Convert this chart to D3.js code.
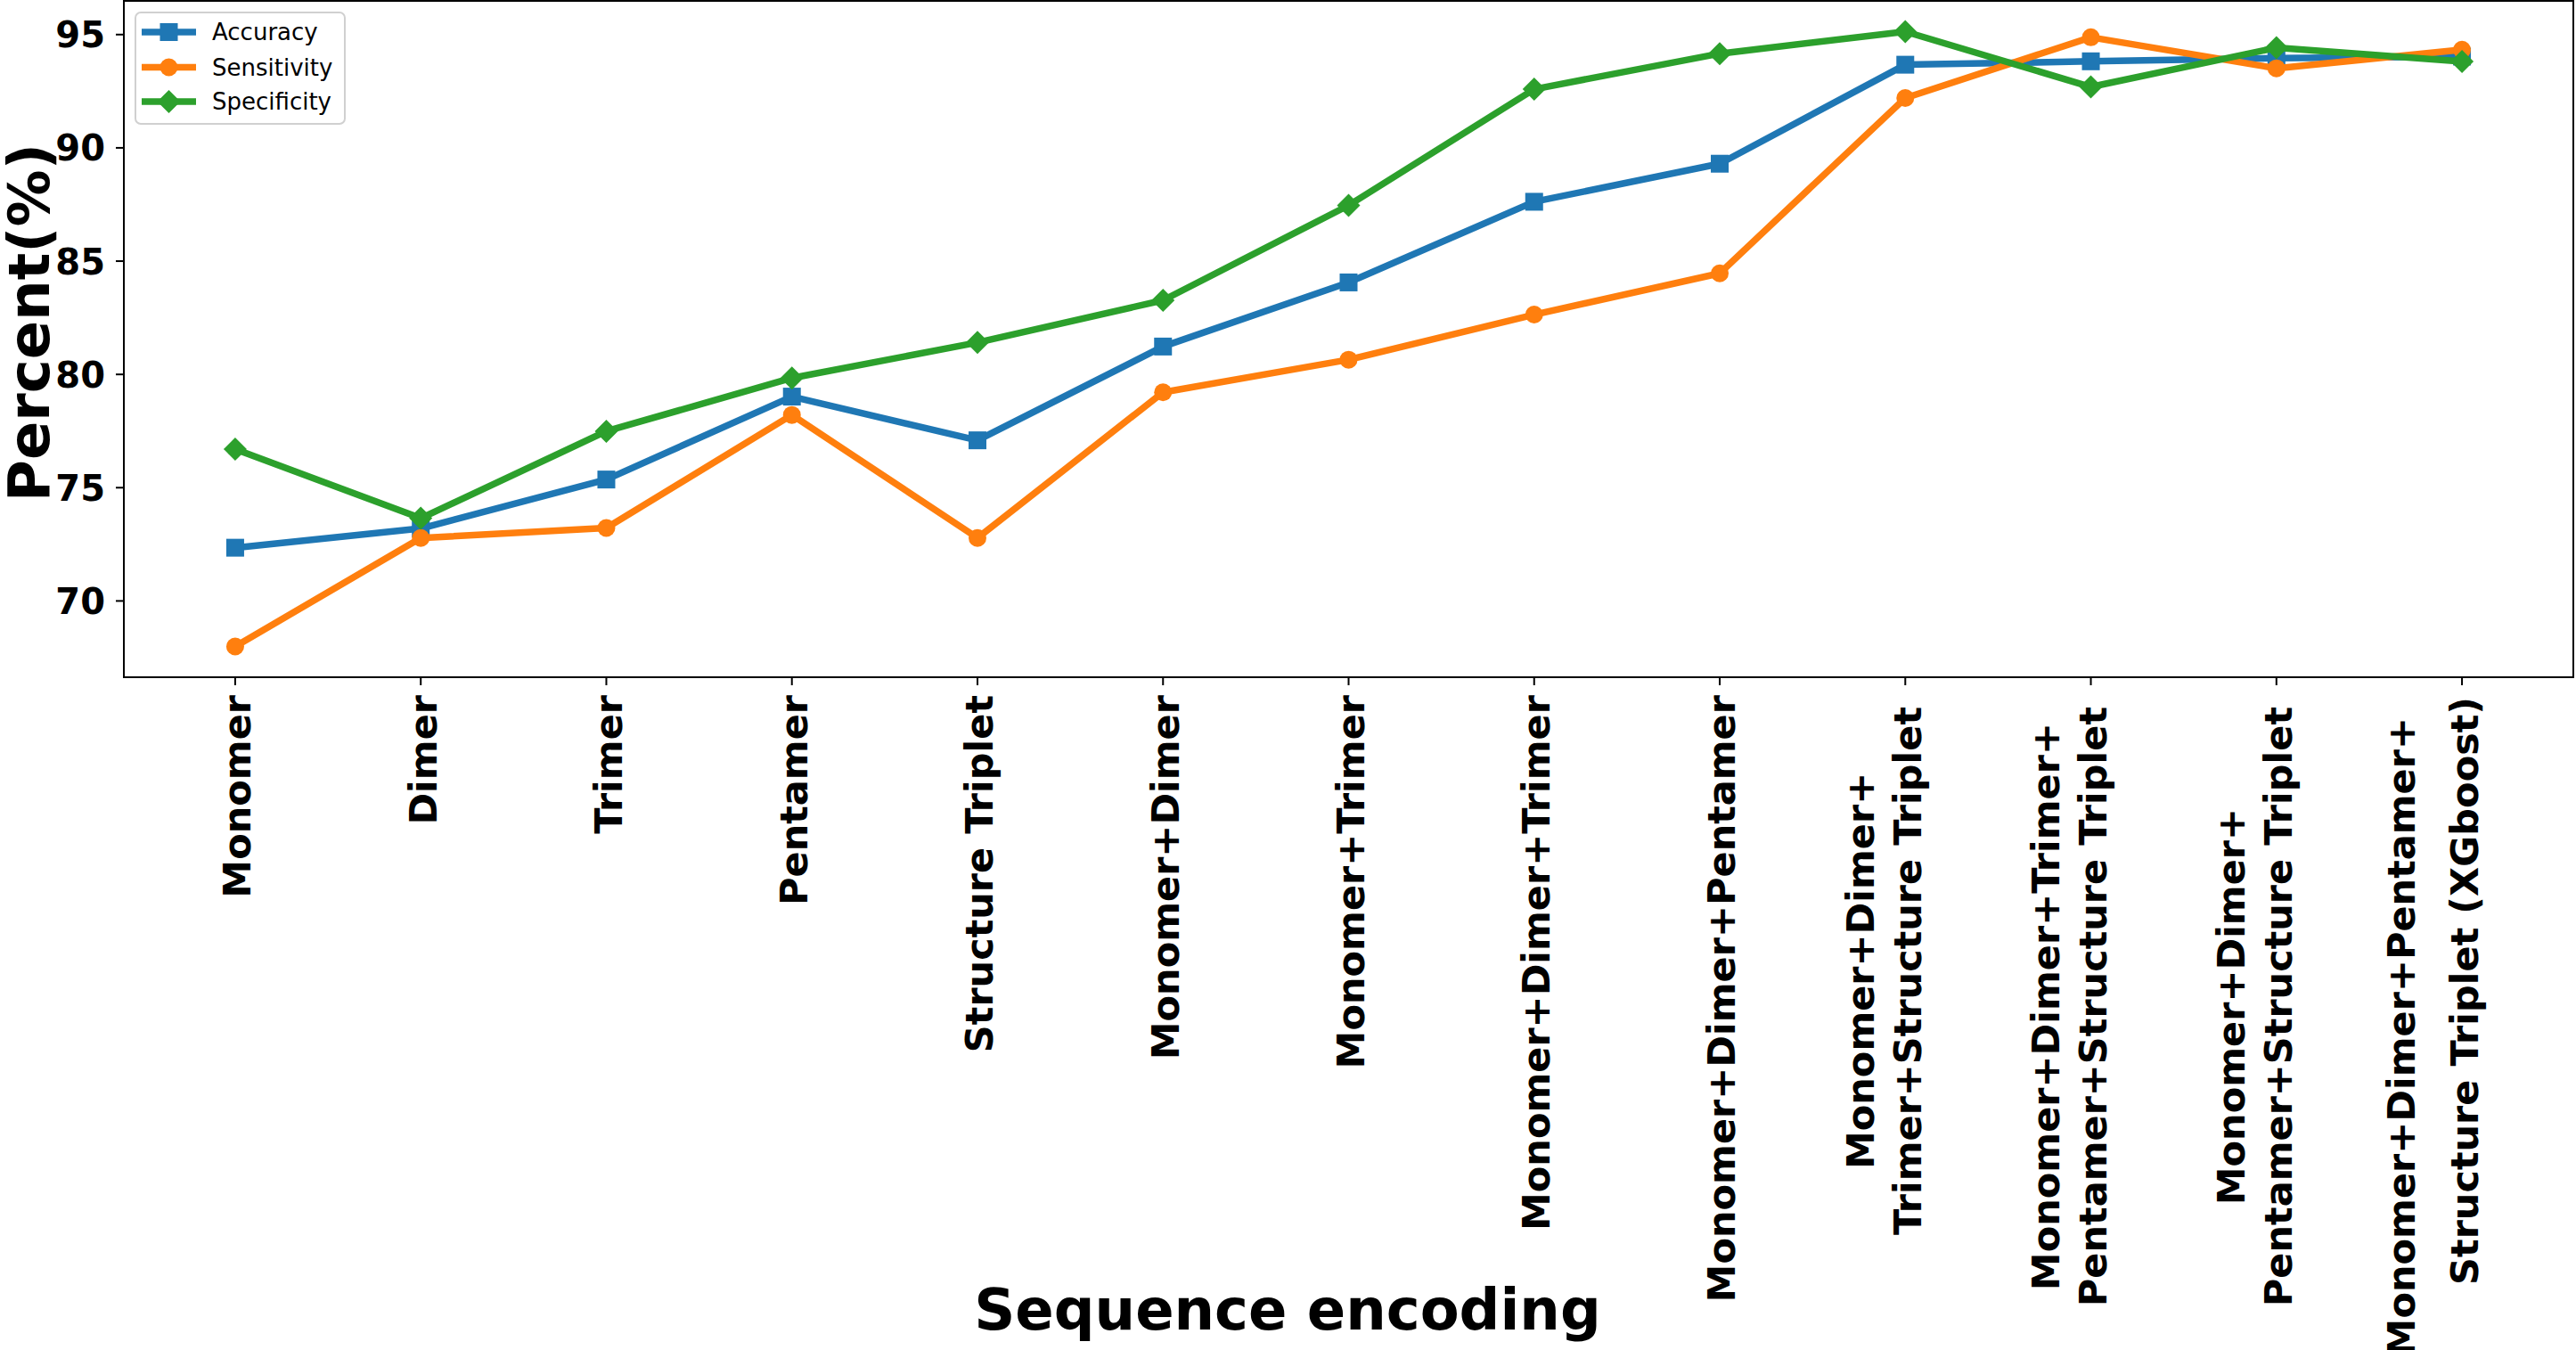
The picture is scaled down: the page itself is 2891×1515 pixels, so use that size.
<!DOCTYPE html>
<html>
<head>
<meta charset="utf-8">
<script src="https://cdn.jsdelivr.net/npm/d3@7"></script>
<style>
  html, body { margin: 0; padding: 0; background: #fff; }
  svg { display: block; }
  text { font-family: "DejaVu Sans", sans-serif; }
</style>
</head>
<body>
<svg id="chart" width="2891" height="1515"></svg>
<script>
// ---- data ----
const categories = [
  "Monomer",
  "Dimer",
  "Trimer",
  "Pentamer",
  "Structure Triplet",
  "Monomer+Dimer",
  "Monomer+Trimer",
  "Monomer+Dimer+Trimer",
  "Monomer+Dimer+Pentamer",
  "Monomer+Dimer+\nTrimer+Structure Triplet",
  "Monomer+Dimer+Trimer+\nPentamer+Structure Triplet",
  "Monomer+Dimer+\nPentamer+Structure Triplet",
  "Monomer+Dimer+Pentamer+\nStructure Triplet (XGboost)"
];
const accuracy    = [72.35, 73.20, 75.36, 79.02, 77.09, 81.23, 84.06, 87.62, 89.30, 93.67, 93.82, 93.96, 94.03];
const sensitivity = [67.99, 72.78, 73.22, 78.21, 72.78, 79.21, 80.65, 82.64, 84.46, 92.20, 94.88, 93.51, 94.33];
const specificity = [76.70, 73.65, 77.49, 79.84, 81.41, 83.27, 87.46, 92.59, 94.16, 95.13, 92.69, 94.42, 93.81];
const seriesNames = ["Accuracy", "Sensitivity", "Specificity"];
const yTicks = [70, 75, 80, 85, 90, 95];
const xLabel = "Sequence encoding";
const yLabel = "Percent(%)";

// ---- layout / style ----
const colors = ["#1f77b4", "#ff7f0e", "#2ca02c"];
const markers = ["square", "circle", "diamond"];
const plot = { left: 139, right: 2888, top: 1, bottom: 760 };
const lineW = 7.5;
const tickFs = 43, yTickFs = 40, labelFs = 64, legendFs = 26;

const svg = d3.select("#chart");

const allVals = accuracy.concat(sensitivity, specificity);
const vmin = d3.min(allVals), vmax = d3.max(allVals);
const pad = (vmax - vmin) * 0.05;
const n = categories.length;

const x = d3.scaleLinear().domain([-0.6, n - 1 + 0.6]).range([plot.left, plot.right]);
const y = d3.scaleLinear().domain([vmin - pad, vmax + pad]).range([plot.bottom, plot.top]);

// axes frame
svg.append("rect")
  .attr("x", plot.left).attr("y", plot.top)
  .attr("width", plot.right - plot.left).attr("height", plot.bottom - plot.top)
  .attr("fill", "none").attr("stroke", "#000").attr("stroke-width", 2);

// y axis ticks
const yAxisG = svg.append("g");
yTicks.forEach(v => {
  const yy = y(v);
  yAxisG.append("line").attr("x1", plot.left - 9).attr("x2", plot.left)
    .attr("y1", yy).attr("y2", yy).attr("stroke", "#000").attr("stroke-width", 2);
  yAxisG.append("text").attr("x", plot.left - 21).attr("y", yy + 0.364 * yTickFs)
    .attr("text-anchor", "end").attr("font-size", yTickFs).attr("font-weight", "bold")
    .text(v);
});

// x axis ticks + rotated labels
const xAxisG = svg.append("g");
categories.forEach((c, i) => {
  const xx = x(i);
  xAxisG.append("line").attr("x1", xx).attr("x2", xx)
    .attr("y1", plot.bottom).attr("y2", plot.bottom + 9).attr("stroke", "#000").attr("stroke-width", 2);
  const lines = c.split("\n");
  const hasParen = lines.some(l => l.includes("("));
  const spacing = hasParen ? 71 : 53;
  const widths = lines.map(l => {
    const t = svg.append("text").attr("font-size", tickFs).attr("font-weight", "bold").text(l);
    const w = t.node().getComputedTextLength();
    t.remove();
    return w;
  });
  const maxW = d3.max(widths);
  const top = lines.length > 1 ? (hasParen ? 782 : 793) : 780;
  const centerY = top + (hasParen ? widths[lines.length - 1] : maxW) / 2;
  lines.forEach((l, j) => {
    const cx = xx + 2 - (lines.length - 1 - j) * spacing;
    const bx = cx + 0.36 * tickFs;
    let cy = centerY;
    if (hasParen && j < lines.length - 1) cy = 805 + widths[j] / 2;
    xAxisG.append("text")
      .attr("transform", `translate(${bx},${cy}) rotate(-90)`)
      .attr("text-anchor", "middle")
      .attr("font-size", tickFs).attr("font-weight", "bold")
      .text(l);
  });
});

// axis labels
svg.append("text")
  .attr("transform", `translate(55,362) rotate(-90)`)
  .attr("text-anchor", "middle").attr("font-size", labelFs).attr("font-weight", "bold")
  .text(yLabel);
svg.append("text")
  .attr("x", 1445).attr("y", 1492)
  .attr("text-anchor", "middle").attr("font-size", labelFs).attr("font-weight", "bold")
  .text(xLabel);

// marker drawing
function drawMarker(g, type, cx, cy, color) {
  if (type === "square") {
    g.append("rect").attr("x", cx - 10).attr("y", cy - 10).attr("width", 20).attr("height", 20).attr("fill", color);
  } else if (type === "circle") {
    g.append("circle").attr("cx", cx).attr("cy", cy).attr("r", 10).attr("fill", color);
  } else {
    const r = 13;
    g.append("path").attr("d", `M${cx},${cy - r}L${cx + r},${cy}L${cx},${cy + r}L${cx - r},${cy}Z`).attr("fill", color);
  }
}

// series
const seriesData = [accuracy, sensitivity, specificity];
const lineGen = d3.line().x((d, i) => x(i)).y(d => y(d));
seriesData.forEach((vals, s) => {
  const g = svg.append("g");
  g.append("path").datum(vals).attr("d", lineGen)
    .attr("fill", "none").attr("stroke", colors[s]).attr("stroke-width", lineW)
    .attr("stroke-linejoin", "round").attr("stroke-linecap", "butt");
  vals.forEach((v, i) => drawMarker(g, markers[s], x(i), y(v), colors[s]));
});

// legend
const lg = svg.append("g");
lg.append("rect").attr("x", 152).attr("y", 14).attr("width", 235).attr("height", 125)
  .attr("rx", 6).attr("fill", "#fff").attr("fill-opacity", 0.8)
  .attr("stroke", "#d0d0d0").attr("stroke-width", 2);
const legendYs = [36, 75.5, 114];
seriesNames.forEach((name, s) => {
  const ly = legendYs[s];
  lg.append("line").attr("x1", 159).attr("x2", 220).attr("y1", ly).attr("y2", ly)
    .attr("stroke", colors[s]).attr("stroke-width", lineW);
  drawMarker(lg, markers[s], 189.5, ly, colors[s]);
  lg.append("text").attr("x", 238).attr("y", ly + 0.364 * legendFs)
    .attr("font-size", legendFs).text(name);
});
</script>
</body>
</html>
